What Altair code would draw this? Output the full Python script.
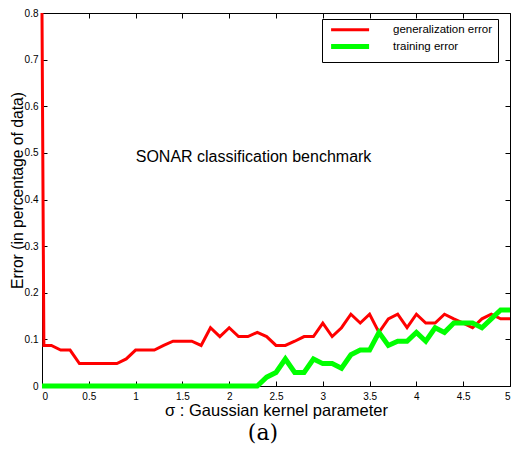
import altair as alt
import pandas as pd

sigma = [0.0, 0.02, 0.1, 0.2, 0.3, 0.4, 0.5, 0.6, 0.7, 0.8, 0.9, 1.0,
         1.1, 1.2, 1.3, 1.4, 1.5, 1.6, 1.7, 1.8, 1.9, 2.0,
         2.1, 2.2, 2.3, 2.4, 2.5, 2.6, 2.7, 2.8, 2.9, 3.0,
         3.1, 3.2, 3.3, 3.4, 3.5, 3.6, 3.7, 3.8, 3.9, 4.0,
         4.1, 4.2, 4.3, 4.4, 4.5, 4.6, 4.7, 4.8, 4.9, 5.0]

gen_error = [0.8, 0.087, 0.087, 0.077, 0.077, 0.048, 0.048, 0.048, 0.048, 0.048, 0.058, 0.077,
             0.077, 0.077, 0.087, 0.096, 0.096, 0.096, 0.087, 0.125, 0.106, 0.125,
             0.106, 0.106, 0.115, 0.106, 0.087, 0.087, 0.096, 0.106, 0.106, 0.135,
             0.106, 0.125, 0.154, 0.135, 0.154, 0.115, 0.144, 0.154, 0.125, 0.154,
             0.135, 0.135, 0.154, 0.144, 0.135, 0.125, 0.144, 0.154, 0.144, 0.144]

train_error = [0.0, 0.0, 0.0, 0.0, 0.0, 0.0, 0.0, 0.0, 0.0, 0.0, 0.0, 0.0,
               0.0, 0.0, 0.0, 0.0, 0.0, 0.0, 0.0, 0.0, 0.0, 0.0,
               0.0, 0.0, 0.0, 0.019, 0.029, 0.058, 0.029, 0.029, 0.058, 0.048,
               0.048, 0.038, 0.067, 0.077, 0.077, 0.115, 0.087, 0.096, 0.096, 0.115,
               0.096, 0.125, 0.115, 0.135, 0.135, 0.135, 0.125, 0.144, 0.163, 0.163]

series_names = ["generalization error", "training error"]
series_colors = ["#ff0000", "#00ff00"]
series_widths = [3, 5]

x_ticks = [0, 0.5, 1, 1.5, 2, 2.5, 3, 3.5, 4, 4.5, 5]
y_ticks = [0, 0.1, 0.2, 0.3, 0.4, 0.5, 0.6, 0.7, 0.8]

annotation = "SONAR classification benchmark"
annot_x = [2.26]
annot_y = [0.492]
caption = "(a)"

FONT = "Liberation Sans"

rows = []
for name, vals in zip(series_names, [gen_error, train_error]):
    for s, v in zip(sigma, vals):
        rows.append({"sigma": s, "error": v, "series": name})
df = pd.DataFrame(rows)

xscale = alt.Scale(domain=[0, 5], nice=False, zero=False)
yscale = alt.Scale(domain=[0, 0.8], nice=False)

legend = alt.Legend(
    orient="none", legendX=280, legendY=6, title=None,
    symbolType="M-0.6,0H8.9", symbolSize=64, labelOffset=53,
    labelFont=FONT, labelFontSize=11.5, labelColor="black",
    padding=5, strokeColor="black", fillColor="white", rowPadding=0,
)

lines = alt.Chart(df).mark_line(strokeJoin="miter").encode(
    x=alt.X("sigma:Q", scale=xscale, axis=alt.Axis(
        orient="bottom", offset=-5, tickSize=5, domain=False, grid=False,
        values=x_ticks, format="~g", labelFont=FONT, labelFontSize=10, labelColor="black",
        tickColor="black", labelPadding=5,
        title="σ : Gaussian kernel parameter", titleFont=FONT, titleFontSize=16.5,
        titleFontWeight="normal", titleColor="black", titleY=21, titleBaseline="top")),
    y=alt.Y("error:Q", scale=yscale, axis=alt.Axis(
        orient="left", offset=-5, tickSize=5, domain=False, grid=False,
        values=y_ticks, format="~g", labelFont=FONT, labelFontSize=10, labelColor="black",
        tickColor="black", labelPadding=4,
        title="Error (in percentage of data)", titleFont=FONT, titleFontSize=15.7,
        titleFontWeight="normal", titleColor="black", titleY=177, titleX=-22)),
    color=alt.Color("series:N", scale=alt.Scale(domain=series_names, range=series_colors),
                    legend=legend),
    strokeWidth=alt.StrokeWidth("series:N", scale=alt.Scale(domain=series_names, range=series_widths),
                                legend=legend),
)

adf = pd.DataFrame({"x": annot_x, "y": annot_y, "t": [annotation]})
text = alt.Chart(adf).mark_text(font=FONT, fontSize=16, color="black", baseline="middle").encode(
    x=alt.X("x:Q", scale=xscale, axis=alt.Axis(
        orient="top", offset=-5, tickSize=5, domain=False, grid=False, labels=False,
        values=x_ticks, tickColor="black", title=None)),
    y=alt.Y("y:Q", scale=yscale, axis=alt.Axis(
        orient="right", offset=-5, tickSize=5, domain=False, grid=False, labels=False,
        values=y_ticks, tickColor="black", title=None)),
    text="t:N",
)

cdf = pd.DataFrame({"t": [caption]})
cap = alt.Chart(cdf).mark_text(font="DejaVu Serif", fontSize=22, color="black", baseline="middle").encode(
    x=alt.value(221), y=alt.value(420), text="t:N")

chart = alt.layer(lines, text, cap).resolve_axis(x="independent", y="independent").properties(
    width=468, height=373,
    autosize=alt.AutoSizeParams(type="none"),
    padding={"left": 34, "top": 5, "right": 3, "bottom": 59},
).configure_view(stroke="black", strokeWidth=1).configure_legend(strokeWidth=1)

chart.save("out.html", embed_options={"renderer": "svg", "actions": False})
